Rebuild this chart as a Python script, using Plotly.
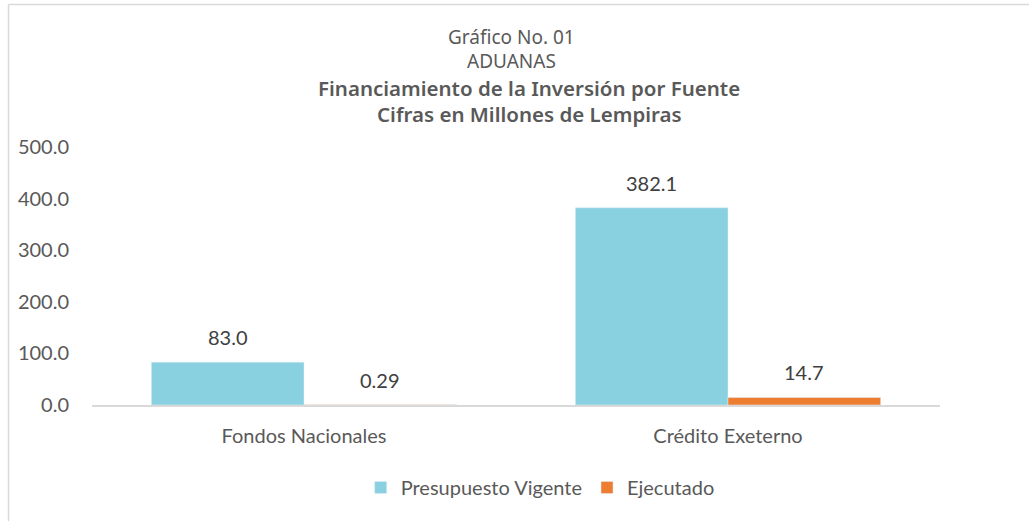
import plotly.graph_objects as go

categories = ["Fondos Nacionales", "Crédito Exeterno"]
presupuesto = [83.0, 382.1]
ejecutado = [0.29, 14.7]
presupuesto_labels = ["83.0", "382.1"]
ejecutado_labels = ["0.29", "14.7"]
title_lines = ["Gráfico No. 01", "ADUANAS",
               "Financiamiento de la Inversión por Fuente",
               "Cifras en Millones de Lempiras"]

W, H = 1029, 521
L, R, T, B = 92, 89, 147, 116
BARGAP = 0.28
FONT = "Lato"
FS = 20

fig = go.Figure()
fig.add_trace(go.Bar(x=categories, y=presupuesto, name="Presupuesto Vigente",
                     marker_color="#89D0E0"))
fig.add_trace(go.Bar(x=categories, y=ejecutado, name="Ejecutado",
                     marker_color="#ED7D31"))

# data labels above bars, through the axes
plot_w = W - L - R
bar_w = plot_w / len(categories) * (1 - BARGAP) / 2
for vals, labs, sign in [(presupuesto, presupuesto_labels, -1), (ejecutado, ejecutado_labels, 1)]:
    for c, v, t in zip(categories, vals, labs):
        fig.add_annotation(x=c, y=v, text=t, showarrow=False, xref="x", yref="y",
                           xshift=sign * bar_w / 2, yshift=25, yanchor="middle",
                           xanchor="center",
                           font=dict(family=FONT, size=FS, color="#404040"))

fig.update_layout(
    width=W, height=H,
    margin=dict(l=L, r=R, t=T, b=B),
    paper_bgcolor="white", plot_bgcolor="white",
    barmode="group", bargap=BARGAP, bargroupgap=0,
    font=dict(family=FONT, size=FS, color="#595959"),
    showlegend=True,
    legend=dict(orientation="h", x=0.5285, xanchor="center", y=-0.32, yanchor="middle",
                font=dict(size=FS, color="#595959"), itemwidth=30,
                traceorder="normal"),
)
fig.update_yaxes(range=[0, 500], dtick=100, tickformat=".1f", showgrid=False,
                 zeroline=False, showline=False, ticks="", ticklabelstandoff=22,
                 tickfont=dict(size=FS, color="#595959"))
fig.update_xaxes(showline=True, linecolor="#D9D9D9", linewidth=1.5, ticks="",
                 showgrid=False, tickfont=dict(size=FS, color="#595959"),
                 ticklabelstandoff=12)

px = lambda v: (v - L) / (W - L - R)
py = lambda v: 1 - (v - T) / (H - T - B)
specs = [(511, 37, 19, 400), (511, 61, 19, 400), (529, 88, 20.5, 600), (529, 114, 20.5, 600)]
for txt, (xx, yy, s, wgt) in zip(title_lines, specs):
    fig.add_annotation(text=txt, xref="paper", yref="paper",
                       x=px(xx), y=py(yy), showarrow=False,
                       xanchor="center", yanchor="middle",
                       font=dict(family="Noto Sans", size=s, weight=wgt, color="#595959"))

# chart border (top and left visible)
fig.add_shape(type="line", xref="paper", yref="paper", x0=px(8.5), x1=px(1029),
              y0=py(4.5), y1=py(4.5), line=dict(color="#D9D9D9", width=1.5))
fig.add_shape(type="line", xref="paper", yref="paper", x0=px(8.5), x1=px(8.5),
              y0=py(4.5), y1=py(521), line=dict(color="#D9D9D9", width=1.5))

fig.write_html("out.html")
